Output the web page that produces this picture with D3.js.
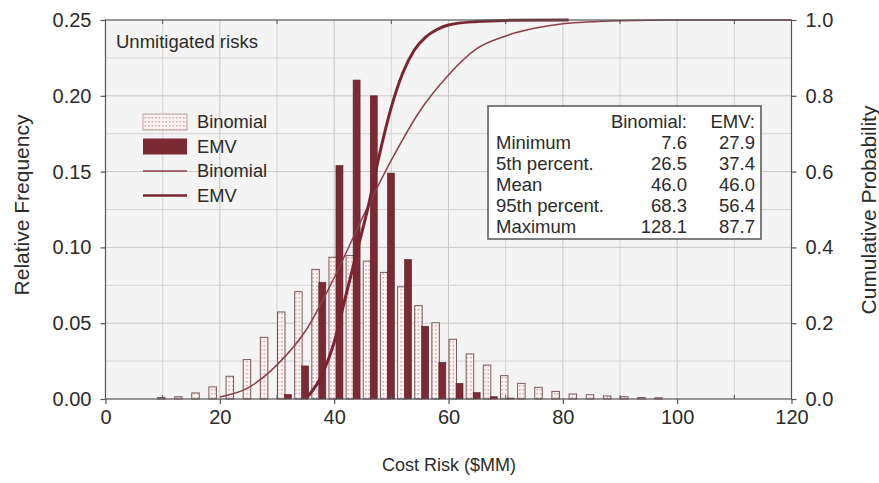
<!DOCTYPE html>
<html>
<head>
<meta charset="utf-8">
<script src="https://cdn.jsdelivr.net/npm/d3@7/dist/d3.min.js"></script>
<style>
  body { margin: 0; background: #fff; }
  svg { display: block; font-family: "Liberation Sans", Arial, sans-serif; }
  .tick text { fill: #2b2b2b; }
</style>
</head>
<body>
<svg id="chart" width="879" height="483"></svg>
<script>
// histogram bins (start of each 3 $MM bin)
const binomialBins = [9, 12, 15, 18, 21, 24, 27, 30, 33, 36, 39, 42, 45, 48, 51, 54, 57, 60, 63, 66, 69, 72, 75, 78, 81, 84, 87, 90, 93, 96];
const binomialFreq = [0.001, 0.0015, 0.004, 0.008, 0.015, 0.026, 0.0407, 0.0574, 0.0708, 0.0855, 0.0935, 0.0946, 0.091, 0.0835, 0.074, 0.0616, 0.0503, 0.0394, 0.0297, 0.0224, 0.0154, 0.0103, 0.0077, 0.005, 0.0033, 0.0028, 0.002, 0.0015, 0.001, 0.0008];
const emvBins = [30, 33, 36, 39, 42, 45, 48, 51, 54, 57, 60, 63, 66, 69];
const emvFreq = [0.003, 0.0218, 0.077, 0.154, 0.2104, 0.2, 0.149, 0.092, 0.048, 0.0242, 0.0103, 0.0042, 0.0015, 0.0006];

// cumulative curves
const binomialCdfX = [20, 25, 30, 35, 40, 45, 50, 55, 60, 65, 70, 75, 80, 90, 100, 120];
const binomialCdfP = [0.005, 0.03, 0.09, 0.18, 0.32, 0.48, 0.63, 0.76, 0.855, 0.925, 0.958, 0.978, 0.99, 0.998, 1.0, 1.0];
const emvCdfX = [35, 37.4, 40, 42, 44, 46, 48, 50, 52, 54, 56, 58, 60, 65, 70, 81];
const emvCdfP = [0.0, 0.05, 0.15, 0.27, 0.39, 0.51, 0.65, 0.77, 0.86, 0.92, 0.955, 0.975, 0.987, 0.996, 0.999, 1.0];

// stats table
const statLabels = ['Minimum', '5th percent.', 'Mean', '95th percent.', 'Maximum'];
const statBinomial = ['7.6', '26.5', '46.0', '68.3', '128.1'];
const statEmv = ['27.9', '37.4', '46.0', '56.4', '87.7'];

const xTicks = [0, 20, 40, 60, 80, 100, 120];
const yTicks = [0, 0.05, 0.10, 0.15, 0.20, 0.25];
const y2Ticks = [0, 0.2, 0.4, 0.6, 0.8, 1.0];

const dark = '#7b2a33';
const svg = d3.select('#chart');

const x = d3.scaleLinear().domain([0, 120]).range([105.5, 791.5]);
const y = d3.scaleLinear().domain([0, 0.25]).range([399, 20]);
const y2 = d3.scaleLinear().domain([0, 1]).range([399, 20]);

const defs = svg.append('defs');
const pat = defs.append('pattern').attr('id', 'dots')
  .attr('width', 3.5).attr('height', 4).attr('patternUnits', 'userSpaceOnUse');
pat.append('rect').attr('width', 3.5).attr('height', 4).attr('fill', '#fdf3f3');
pat.append('rect').attr('x', 1.2).attr('y', 1.2).attr('width', 1.2).attr('height', 1.2).attr('fill', '#b9767d');

// plot background
svg.append('rect')
  .attr('x', x(0)).attr('y', y(0.25))
  .attr('width', x(120) - x(0)).attr('height', y(0) - y(0.25))
  .attr('fill', '#f4f4f4');

// grid
const grid = svg.append('g');
grid.selectAll('line.vx').data(d3.range(10, 120, 10)).enter().append('line')
  .attr('x1', d => x(d)).attr('x2', d => x(d))
  .attr('y1', y(0)).attr('y2', y(0.25))
  .attr('stroke', d => d % 20 === 0 ? '#c6c6c6' : '#d6d6d6').attr('stroke-width', 1);
grid.selectAll('line.hy').data(d3.range(1, 10).map(i => i * 0.025)).enter().append('line')
  .attr('x1', x(0)).attr('x2', x(120))
  .attr('y1', d => y(d)).attr('y2', d => y(d))
  .attr('stroke', (d, i) => i % 2 === 1 ? '#c6c6c6' : '#d6d6d6').attr('stroke-width', 1);

// bars
const bw = 7.5;
svg.append('g').selectAll('rect').data(binomialBins).enter().append('rect')
  .attr('x', d => x(d + 1.4) - bw)
  .attr('width', bw)
  .attr('y', (d, i) => y(binomialFreq[i]))
  .attr('height', (d, i) => y(0) - y(binomialFreq[i]))
  .attr('fill', 'url(#dots)')
  .attr('stroke', '#7a5a5e').attr('stroke-width', 1);

const ew = 7;
svg.append('g').selectAll('rect').data(emvBins).enter().append('rect')
  .attr('x', d => x(d + 1.4) - 0.5)
  .attr('width', ew)
  .attr('y', (d, i) => y(emvFreq[i]))
  .attr('height', (d, i) => y(0) - y(emvFreq[i]))
  .attr('fill', dark)
  .attr('stroke', '#5e1f27').attr('stroke-width', 0.6);

// cumulative lines
const line = d3.line().x(d => x(d[0])).y(d => y2(d[1])).curve(d3.curveMonotoneX);
svg.append('path')
  .datum(binomialCdfX.map((v, i) => [v, binomialCdfP[i]]))
  .attr('d', line).attr('fill', 'none')
  .attr('stroke', '#8c3f48').attr('stroke-width', 1.5);
svg.append('path')
  .datum(emvCdfX.map((v, i) => [v, emvCdfP[i]]))
  .attr('d', line).attr('fill', 'none')
  .attr('stroke', '#7a2631').attr('stroke-width', 3);

// frame
svg.append('rect')
  .attr('x', x(0)).attr('y', y(0.25))
  .attr('width', x(120) - x(0)).attr('height', y(0) - y(0.25))
  .attr('fill', 'none').attr('stroke', '#555').attr('stroke-width', 1.2);

// minor inner ticks on x
svg.append('g').selectAll('line').data(d3.range(10, 120, 20)).enter().append('line')
  .attr('x1', d => x(d)).attr('x2', d => x(d))
  .attr('y1', y(0)).attr('y2', y(0) - 4)
  .attr('stroke', '#555');
svg.append('g').selectAll('line').data(d3.range(10, 120, 20)).enter().append('line')
  .attr('x1', d => x(d)).attr('x2', d => x(d))
  .attr('y1', y(0.25)).attr('y2', y(0.25) + 4)
  .attr('stroke', '#555');

// axes
function styleAxis(g) {
  g.select('.domain').remove();
  g.selectAll('.tick line').attr('stroke', '#555').attr('stroke-width', 1.2);
  g.selectAll('.tick text').attr('font-size', 20).attr('fill', '#2b2b2b');
}
svg.append('g').attr('transform', `translate(${x(0)},0)`)
  .call(d3.axisLeft(y).tickValues(yTicks).tickFormat(d3.format('.2f')).tickSize(5).tickPadding(9))
  .call(styleAxis);
svg.append('g').attr('transform', `translate(${x(120)},0)`)
  .call(d3.axisRight(y2).tickValues(y2Ticks).tickFormat(d3.format('.1f')).tickSize(5).tickPadding(9))
  .call(styleAxis);
svg.append('g').attr('transform', `translate(0,${y(0)})`)
  .call(d3.axisBottom(x).tickValues(xTicks).tickFormat(d3.format('d')).tickSize(5).tickPadding(6))
  .call(styleAxis);

// axis titles
svg.append('text').attr('x', 449).attr('y', 471).attr('text-anchor', 'middle')
  .attr('font-size', 18).attr('fill', '#2b2b2b').text('Cost Risk ($MM)');
svg.append('text').attr('transform', 'translate(29,205) rotate(-90)').attr('text-anchor', 'middle')
  .attr('font-size', 21).attr('fill', '#2b2b2b').text('Relative Frequency');
svg.append('text').attr('transform', 'translate(876,210) rotate(-90)').attr('text-anchor', 'middle')
  .attr('font-size', 21).attr('fill', '#2b2b2b').text('Cumulative Probability');

// title inside plot
svg.append('text').attr('x', 116).attr('y', 48).attr('font-size', 18.5)
  .attr('fill', '#2b2b2b').text('Unmitigated risks');

// legend
const legend = svg.append('g').attr('font-size', 18.3).attr('fill', '#2b2b2b');
const legendRows = [
  { label: 'Binomial', kind: 'pattern' },
  { label: 'EMV', kind: 'solid' },
  { label: 'Binomial', kind: 'thin' },
  { label: 'EMV', kind: 'thick' }
];
legendRows.forEach((r, i) => {
  const cy = 122 + i * 24.5;
  if (r.kind === 'pattern') {
    legend.append('rect').attr('x', 143).attr('y', cy - 8).attr('width', 44).attr('height', 16)
      .attr('fill', 'url(#dots)').attr('stroke', '#b58d90').attr('stroke-width', 0.8);
  } else if (r.kind === 'solid') {
    legend.append('rect').attr('x', 143).attr('y', cy - 8).attr('width', 44).attr('height', 16)
      .attr('fill', dark);
  } else {
    legend.append('line').attr('x1', 143).attr('x2', 187).attr('y1', cy).attr('y2', cy)
      .attr('stroke', r.kind === 'thin' ? '#8c3f48' : '#7a2631')
      .attr('stroke-width', r.kind === 'thin' ? 1.5 : 2.5);
  }
  legend.append('text').attr('x', 197).attr('y', cy).attr('dy', '0.35em').text(r.label);
});

// stats box
const box = svg.append('g').attr('font-size', 18.5).attr('fill', '#2b2b2b');
box.append('rect').attr('x', 488).attr('y', 106).attr('width', 273).attr('height', 133)
  .attr('fill', '#fff').attr('stroke', '#555').attr('stroke-width', 1.5);
box.append('text').attr('x', 687).attr('y', 122).attr('dy', '0.35em').attr('text-anchor', 'end').text('Binomial:');
box.append('text').attr('x', 755).attr('y', 122).attr('dy', '0.35em').attr('text-anchor', 'end').text('EMV:');
statLabels.forEach((s, i) => {
  const cy = 143 + i * 20.8;
  box.append('text').attr('x', 496).attr('y', cy).attr('dy', '0.35em').text(s);
  box.append('text').attr('x', 687).attr('y', cy).attr('dy', '0.35em').attr('text-anchor', 'end').text(statBinomial[i]);
  box.append('text').attr('x', 755).attr('y', cy).attr('dy', '0.35em').attr('text-anchor', 'end').text(statEmv[i]);
});
</script>
</body>
</html>
